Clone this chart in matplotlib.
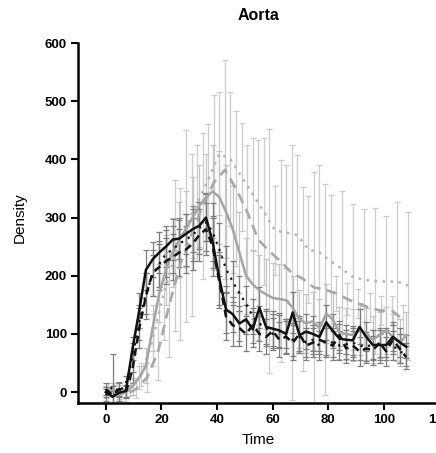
import matplotlib
matplotlib.use("Agg")
import matplotlib.pyplot as plt

plt.rcParams["font.family"] = ["Liberation Sans", "DejaVu Sans"]

# tiempos (black series + gray solid share the fine grid)
t_fine = [0, 2.4, 4.8, 7.2, 9.6, 12, 14.4, 16.8, 19.2, 21.6,
          24, 26.4, 28.8, 31.2, 33.6, 36, 38.4, 40.8, 43.2, 45.6,
          48, 50.4, 52.8, 55.2, 57.6, 60, 62.4, 64.8, 67.2, 69.6,
          72, 74.4, 76.8, 79.2, 81.6, 84, 86.4, 88.8, 91.2, 93.6,
          96, 98.4, 100.8, 103.2, 105.6, 108]
t_a = [0.8, 4.8, 8.8, 12.8, 16.8, 20.8, 24.8, 28.8, 32.8, 36.8,
       40.8, 44.8, 48.8, 52.8, 56.8, 60.8, 64.8, 68.8, 72.8, 76.8,
       80.8, 84.8, 88.8, 92.8, 96.8, 100.8, 104.8, 108.8]
t_b = [2.8, 6.8, 10.8, 14.8, 18.8, 22.8, 26.8, 30.8, 34.8, 38.8,
       42.8, 46.8, 50.8, 54.8, 58.8, 62.8, 66.8, 70.8, 74.8, 78.8,
       82.8, 86.8, 90.8, 94.8, 98.8, 102.8, 106.8]

black_solid = [0, -8, -1, 2, 75, 140, 210, 228, 240, 250,
               262, 264, 272, 280, 286, 300, 258, 195, 142, 134,
               118, 125, 108, 145, 112, 109, 106, 100, 137, 98,
               104, 100, 95, 120, 105, 92, 90, 89, 112, 95,
               81, 81, 81, 95, 86, 78]
black_solid_err = [8, 10, 8, 10, 20, 30, 35, 30, 35, 35,
                   35, 35, 35, 40, 40, 40, 45, 45, 40, 30,
                   30, 25, 30, 35, 30, 30, 30, 25, 35, 30,
                   30, 30, 25, 30, 30, 25, 25, 25, 30, 25,
                   25, 25, 25, 25, 25, 20]

black_dashed = [5, -5, 5, 0, 40, 110, 165, 205, 215, 225,
                232, 240, 245, 255, 270, 280, 250, 190, 130, 115,
                110, 100, 115, 100, 95, 105, 90, 95, 85, 100,
                80, 85, 90, 85, 80, 98, 75, 80, 70, 75,
                72, 85, 70, 90, 75, 60]
black_dashed_err = [10, 15, 12, 10, 25, 35, 40, 40, 40, 40,
                    40, 40, 40, 45, 45, 45, 50, 45, 40, 35,
                    30, 30, 30, 30, 30, 30, 30, 30, 30, 30,
                    25, 25, 25, 25, 25, 25, 25, 25, 25, 25,
                    25, 25, 25, 25, 25, 20]

black_dotted = [-5, 10, 0, 15, 60, 120, 170, 200, 220, 238,
                245, 255, 262, 270, 282, 292, 275, 245, 212, 190,
                170, 152, 130, 118, 110, 100, 105, 95, 90, 95,
                85, 90, 80, 88, 85, 80, 82, 85, 80, 78,
                82, 75, 85, 80, 70, 65]
black_dotted_err = [10, 55, 15, 12, 25, 30, 35, 35, 40, 40,
                    40, 40, 45, 45, 45, 50, 50, 45, 40, 35,
                    30, 30, 30, 30, 30, 28, 28, 28, 28, 28,
                    25, 25, 25, 25, 25, 25, 25, 25, 25, 25,
                    25, 25, 25, 25, 20, 20]

gray_solid = [0, 5, -5, 0, 10, 25, 45, 110, 170, 210,
              240, 262, 280, 300, 320, 335, 345, 335, 310, 280,
              240, 200, 185, 175, 168, 162, 160, 158, 145, 125,
              118, 122, 110, 135, 125, 102, 100, 98, 108, 100,
              90, 98, 106, 95, 85, 98]
gray_solid_err = [10, 10, 10, 10, 15, 20, 30, 40, 50, 60,
                  60, 65, 65, 70, 70, 75, 80, 80, 80, 75,
                  70, 65, 60, 60, 60, 60, 60, 55, 55, 50,
                  50, 50, 50, 50, 45, 45, 45, 45, 45, 45,
                  40, 40, 40, 40, 40, 40]

gray_dotted = [5, 0, 8, 30, 90, 170, 235, 285, 325, 365,
               410, 400, 370, 340, 310, 278, 274, 270, 245, 240,
               225, 212, 198, 193, 191, 190, 190, 183]
gray_dotted_err = [10, 12, 15, 20, 45, 80, 130, 165, 100, 95,
                   106, 115, 93, 97, 126, 76, 116, 138, 92, 151,
                   113, 133, 125, 121, 125, 112, 137, 127]

gray_dashed = [3, -5, 5, 25, 70, 150, 220, 270, 320, 360,
               382, 350, 310, 262, 242, 225, 205, 195, 180, 176,
               170, 160, 152, 145, 140, 140, 125]
gray_dashed_err = [10, 10, 15, 25, 50, 90, 130, 140, 125, 150,
                   188, 133, 114, 172, 210, 174, 219, 158, 198, 181,
                   30, 28, 25, 25, 25, 25, 25]

fig = plt.figure(figsize=(4.36, 4.53), dpi=100)
ax = fig.add_axes([0.179, 0.110, 0.858, 0.795])

series = [
    (t_a, gray_dotted, gray_dotted_err, "#b4b4b4", (0, (1, 2.2)), 1.8, "#cccccc"),
    (t_b, gray_dashed, gray_dashed_err, "#a8a8a8", (0, (4, 2.5)), 1.9, "#cccccc"),
    (t_fine, gray_solid, gray_solid_err, "#a5a5a5", "-", 1.8, "#c4c4c4"),
    (t_fine, black_dotted, black_dotted_err, "#111111", (0, (1, 2.5)), 1.6, "#7c7c7c"),
    (t_fine, black_dashed, black_dashed_err, "#111111", (0, (3, 2)), 1.8, "#7c7c7c"),
    (t_fine, black_solid, black_solid_err, "#111111", "-", 1.8, "#7c7c7c"),
]

for t, y, e, col, ls, lw, ecol in series:
    ax.errorbar(t, y, yerr=e, fmt="none", ecolor=ecol, elinewidth=0.9,
                capsize=2, capthick=0.9, zorder=1)
for t, y, e, col, ls, lw, ecol in series:
    ax.plot(t, y, color=col, linestyle=ls, linewidth=lw, zorder=3)

ax.set_xlim(-10, 124.5)
ax.set_ylim(-19, 600)
ax.set_xticks([0, 20, 40, 60, 80, 100, 120])
ax.set_yticks([0, 100, 200, 300, 400, 500, 600])

for s in ["top", "right"]:
    ax.spines[s].set_visible(False)
for s in ["left", "bottom"]:
    ax.spines[s].set_linewidth(1.8)
ax.tick_params(direction="out", length=5, width=1.5, labelsize=9.5, pad=3)
for lab in ax.get_xticklabels() + ax.get_yticklabels():
    lab.set_fontweight("bold")

fig.text(0.592, 0.965, "Aorta", ha="center", va="center",
         fontsize=11.5, fontweight="bold")
fig.text(0.592, 0.028, "Time", ha="center", va="center", fontsize=11)
fig.text(0.046, 0.52, "Density", ha="center", va="center",
         fontsize=11, rotation=90)

fig.savefig("out.png", dpi=100)
